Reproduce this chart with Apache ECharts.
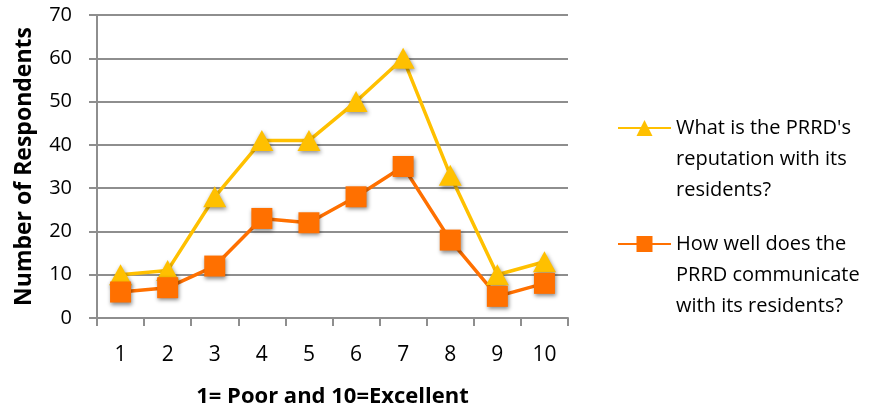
<!DOCTYPE html>
<html>
<head>
<meta charset="utf-8">
<script src="https://cdn.jsdelivr.net/npm/echarts@6/dist/echarts.min.js"></script>
<style>
  html, body { margin: 0; padding: 0; background: #fff; }
  #chart { width: 891px; height: 413px; }
</style>
</head>
<body>
<div id="chart"></div>
<script>
// Survey ratings on a 1-10 scale
const categories = ['1', '2', '3', '4', '5', '6', '7', '8', '9', '10'];
const reputationName = "What is the PRRD's\nreputation with its\nresidents?";
const reputationValues = [10, 11, 28, 41, 41, 50, 60, 33, 10, 13];
const communicateName = 'How well does the\nPRRD communicate\nwith its residents?';
const communicateValues = [6, 7, 12, 23, 22, 28, 35, 18, 5, 8];
const yTicks = [0, 10, 20, 30, 40, 50, 60, 70];

const FONT = '"Open Sans", sans-serif';
const GRID_COLOR = '#8e8e8e';
const LINE_H = 31;

const chart = echarts.init(document.getElementById('chart'), null, { renderer: 'canvas' });

const markerShadow = {
  shadowBlur: 4,
  shadowColor: 'rgba(0,0,0,0.45)',
  shadowOffsetX: 1,
  shadowOffsetY: 2
};

// Each legend entry keeps its swatch beside the first line of its label:
// two empty lines above the label make that first line the block's middle,
// which is where the swatch is drawn.
function legendFor(name, swatchY) {
  return {
    orient: 'vertical',
    left: 612,
    top: swatchY - 5 - LINE_H * 2.5,
    itemWidth: 53,
    itemHeight: 20,
    formatter: n => '\n\n' + n,
    textStyle: { fontFamily: FONT, fontSize: 20, color: '#000', lineHeight: LINE_H },
    data: [name]
  };
}

chart.setOption({
  animation: false,
  backgroundColor: '#ffffff',
  grid: { left: 97, top: 15, width: 471, height: 308, containLabel: false },
  legend: [legendFor(reputationName, 128), legendFor(communicateName, 244)],
  xAxis: {
    type: 'category',
    data: categories,
    boundaryGap: true,
    name: '1= Poor and 10=Excellent',
    nameLocation: 'middle',
    nameGap: 68,
    nameTextStyle: { fontFamily: FONT, fontSize: 22, fontWeight: 'bold', color: '#000' },
    axisLine: { lineStyle: { color: GRID_COLOR, width: 2 } },
    axisTick: { show: true, inside: false, length: 8, alignWithLabel: false, lineStyle: { color: GRID_COLOR, width: 2 } },
    axisLabel: { fontFamily: FONT, fontSize: 21, color: '#000', margin: 27 }
  },
  yAxis: {
    type: 'value',
    min: yTicks[0],
    max: yTicks[yTicks.length - 1],
    interval: 10,
    name: 'Number of Respondents',
    nameLocation: 'middle',
    nameGap: 61,
    nameTextStyle: { fontFamily: FONT, fontSize: 23, fontWeight: 'bold', color: '#000' },
    axisLine: { show: true, lineStyle: { color: GRID_COLOR, width: 2 } },
    axisTick: { show: true, inside: false, length: 8, lineStyle: { color: GRID_COLOR, width: 2 } },
    axisLabel: { fontFamily: FONT, fontSize: 20, color: '#000', margin: 25 },
    splitLine: { show: true, lineStyle: { color: GRID_COLOR, width: 2 } }
  },
  series: [
    {
      name: reputationName,
      type: 'line',
      data: reputationValues,
      symbol: 'triangle',
      symbolSize: [23, 21],
      lineStyle: { color: '#FFC000', width: 3.5 },
      itemStyle: Object.assign({ color: '#FFC000' }, markerShadow)
    },
    {
      name: communicateName,
      type: 'line',
      data: communicateValues,
      symbol: 'rect',
      symbolSize: 21,
      lineStyle: { color: '#FF7000', width: 3.5 },
      itemStyle: Object.assign({ color: '#FF7000' }, markerShadow)
    }
  ]
});
</script>
</body>
</html>
